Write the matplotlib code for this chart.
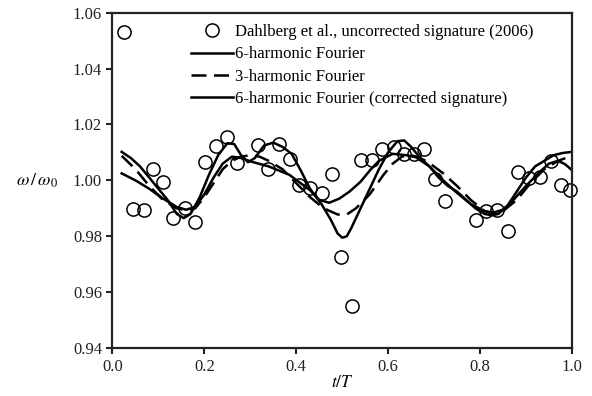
import matplotlib
matplotlib.use('Agg')
import matplotlib.pyplot as plt

plt.rcParams['font.family'] = 'Liberation Serif'
plt.rcParams['mathtext.fontset'] = 'stix'

# Dahlberg et al. data points (uncorrected signature)
data_t = [0.026, 0.045, 0.069, 0.088, 0.110, 0.132, 0.158, 0.179, 0.201, 0.225,
          0.249, 0.271, 0.316, 0.338, 0.362, 0.386, 0.407, 0.431, 0.457, 0.477,
          0.498, 0.522, 0.542, 0.566, 0.587, 0.612, 0.635, 0.657, 0.678, 0.702,
          0.724, 0.791, 0.813, 0.837, 0.861, 0.883, 0.906, 0.930, 0.954, 0.976, 0.997]
data_w = [1.0531, 0.9897, 0.9894, 1.0040, 0.9994, 0.9865, 0.9901, 0.9851, 1.0066, 1.0123,
          1.0155, 1.0062, 1.0126, 1.0040, 1.0130, 1.0076, 0.9983, 0.9972, 0.9955, 1.0023,
          0.9727, 0.9550, 1.0073, 1.0073, 1.0112, 1.0119, 1.0094, 1.0094, 1.0112, 1.0006,
          0.9926, 0.9858, 0.9892, 0.9894, 0.9819, 1.0030, 1.0008, 1.0012, 1.0069, 0.9983, 0.9965]

# 6-harmonic Fourier (uncorrected)
six_t = [0.02, 0.04, 0.06, 0.08, 0.10, 0.12, 0.14, 0.155, 0.17, 0.19, 0.21, 0.23, 0.25,
         0.265, 0.28, 0.295, 0.31, 0.33, 0.35, 0.37, 0.39, 0.41, 0.43, 0.455, 0.475, 0.49,
         0.50, 0.51, 0.52, 0.54, 0.56, 0.58, 0.60, 0.62, 0.635, 0.65, 0.67, 0.69, 0.71,
         0.73, 0.75, 0.77, 0.79, 0.81, 0.825, 0.84, 0.86, 0.88, 0.90, 0.92, 0.94, 0.96,
         0.98, 1.0]
six_w = [1.0102, 1.0080, 1.0050, 1.0010, 0.9970, 0.9930, 0.9880, 0.9865, 0.9880, 0.9940,
         1.0020, 1.0090, 1.0133, 1.0130, 1.0090, 1.0065, 1.0080, 1.0125, 1.0135, 1.0120,
         1.0095, 1.0035, 0.9970, 0.9915, 0.9860, 0.9810, 0.9795, 0.9800, 0.9830, 0.9900,
         0.9970, 1.0040, 1.0100, 1.0140, 1.0143, 1.0120, 1.0080, 1.0050, 1.0010, 0.9980,
         0.9960, 0.9930, 0.9900, 0.9880, 0.9875, 0.9880, 0.9910, 0.9960, 1.0010, 1.0050,
         1.0070, 1.0090, 1.0098, 1.0102]

# 3-harmonic Fourier
three_t = [0.02, 0.05, 0.08, 0.11, 0.14, 0.16, 0.18, 0.20, 0.22, 0.24, 0.26, 0.28, 0.30,
           0.32, 0.34, 0.37, 0.40, 0.43, 0.46, 0.49, 0.51, 0.53, 0.56, 0.59, 0.61, 0.63,
           0.65, 0.67, 0.69, 0.72, 0.75, 0.78, 0.81, 0.83, 0.85, 0.88, 0.91, 0.94, 0.97, 1.0]
three_w = [1.0088, 1.0040, 0.9980, 0.9930, 0.9900, 0.9893, 0.9900, 0.9940, 0.9990, 1.0040,
           1.0070, 1.0085, 1.0090, 1.0085, 1.0070, 1.0040, 0.9990, 0.9940, 0.9900, 0.9878,
           0.9878, 0.9900, 0.9950, 1.0020, 1.0060, 1.0085, 1.0090, 1.0080, 1.0062, 1.0025,
           0.9980, 0.9930, 0.9890, 0.9880, 0.9890, 0.9930, 0.9990, 1.0040, 1.0070, 1.0088]

# 6-harmonic Fourier (corrected signature)
corr_t = [0.02, 0.05, 0.08, 0.11, 0.14, 0.16, 0.18, 0.20, 0.22, 0.24, 0.26, 0.28, 0.30,
          0.34, 0.385, 0.43, 0.45, 0.472, 0.494, 0.516, 0.54, 0.56, 0.58, 0.61, 0.64,
          0.66, 0.69, 0.72, 0.75, 0.78, 0.81, 0.83, 0.85, 0.87, 0.90, 0.93, 0.95, 0.97,
          0.985, 1.0]
corr_w = [1.0025, 1.0000, 0.9970, 0.9935, 0.9905, 0.9895, 0.9905, 0.9950, 1.0010, 1.0060,
          1.0085, 1.0080, 1.0068, 1.0050, 1.0020, 0.9965, 0.9930, 0.9920, 0.9935, 0.9960,
          0.9995, 1.0035, 1.0070, 1.0095, 1.0090, 1.0083, 1.0050, 1.0000, 0.9955, 0.9915,
          0.9890, 0.9885, 0.9895, 0.9925, 0.9980, 1.0030, 1.0060, 1.0070, 1.0058, 1.0037]

fig = plt.figure(figsize=(5.92, 3.96), dpi=100)
ax = fig.add_axes([0.19, 0.121, 0.776, 0.847])

ax.plot(data_t, data_w, 'o', mfc='none', mec='black', ms=9.5, mew=1.1, clip_on=False,
        label='Dahlberg et al., uncorrected signature (2006)')
ax.plot(six_t, six_w, '-', color='black', lw=1.8, label='6-harmonic Fourier')
ax.plot(three_t, three_w, '--', color='black', lw=1.8, dashes=(6, 3), label='3-harmonic Fourier')
ax.plot(corr_t, corr_w, '-', color='black', lw=1.8, label='6-harmonic Fourier (corrected signature)')

ax.set_xlim(0, 1.0)
ax.set_ylim(0.94, 1.06)
ax.set_xticks([0.0, 0.2, 0.4, 0.6, 0.8, 1.0])
ax.set_yticks([0.94, 0.96, 0.98, 1.00, 1.02, 1.04, 1.06])
ax.xaxis.set_major_formatter(matplotlib.ticker.FormatStrFormatter('%.1f'))
ax.yaxis.set_major_formatter(matplotlib.ticker.FormatStrFormatter('%.2f'))
ax.tick_params(direction='out', length=4, width=1.5, labelsize=12, colors='#222222')
for s in ax.spines.values():
    s.set_linewidth(1.6)
    s.set_color('#222222')

ax.set_xlabel('$t/T$', fontsize=12.5, labelpad=0)
ax.set_ylabel(r'$\omega\,/\,\omega_0$', fontsize=13, rotation=0, labelpad=26, va='center')

ax.legend(loc='upper left', bbox_to_anchor=(0.172, 0.966), frameon=False, fontsize=12,
          handlelength=2.5, handletextpad=0.1, borderpad=0, borderaxespad=0,
          labelspacing=0.38)

fig.savefig('out.png', dpi=100)
